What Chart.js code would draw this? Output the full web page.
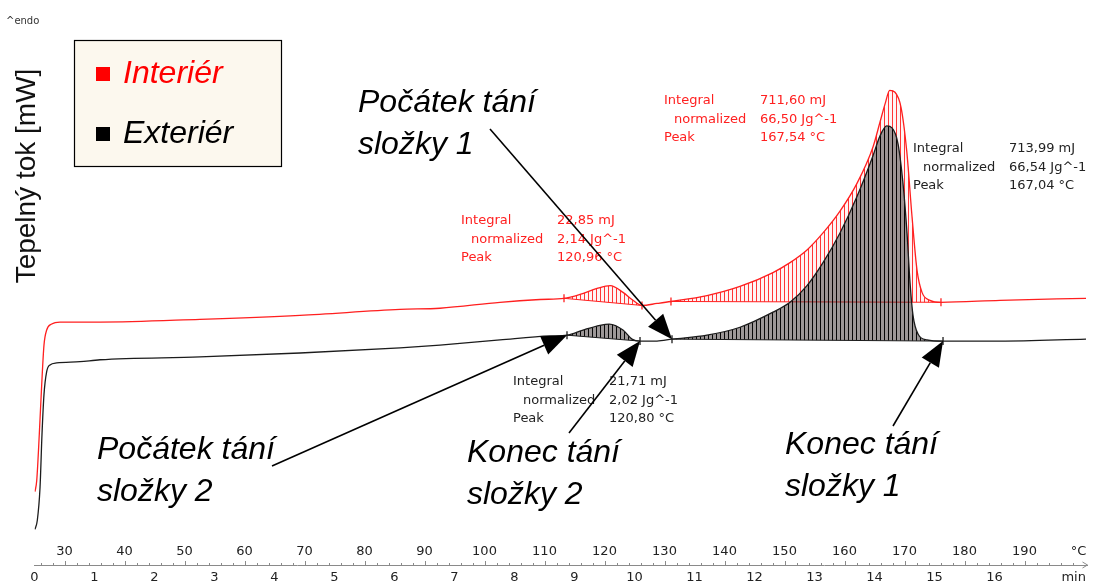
<!DOCTYPE html>
<html>
<head>
<meta charset="utf-8">
<script src="https://cdn.jsdelivr.net/npm/chart.js@4.4.0/dist/chart.umd.min.js"></script>
<style>
  html, body { margin: 0; padding: 0; background: #fff; }
  #wrap { position: relative; width: 1093px; height: 586px; }
</style>
</head>
<body>
<div id="wrap"><canvas id="dsc"></canvas></div>
<script>
// DSC run, heating 10 K/min from 25 °C: heat flow [mW] against temperature [°C]
const redTemp = [25.08, 25.37, 25.8, 26.2, 26.58, 27.03, 27.87, 29.25, 35.92, 52.58, 69.25, 85.92, 92.58, 102.58, 109.25, 113.25, 115.92, 118.75, 120.96, 123.08, 124.75, 126.25, 128.75, 131.08, 137.08, 142.58, 148.08, 150.92, 153.75, 156.42, 159.25, 162.08, 164.75, 165.92, 166.75, 167.54, 168.42, 169.42, 170.37, 171.25, 172.08, 172.92, 174.25, 176.08, 185.92, 200.25];
const redFlow = [1.85, 2.13, 3.3, 4.55, 5.55, 5.93, 6.08, 6.13, 6.13, 6.2, 6.3, 6.45, 6.48, 6.63, 6.7, 6.73, 6.83, 6.98, 7.05, 6.88, 6.68, 6.55, 6.6, 6.65, 6.8, 7.03, 7.38, 7.63, 7.95, 8.38, 8.93, 9.63, 10.55, 11.18, 11.63, 11.98, 11.93, 11.55, 10.45, 8.8, 7.45, 6.88, 6.68, 6.63, 6.68, 6.73];

const blackTemp = [25.08, 25.47, 25.92, 26.25, 26.58, 27.03, 27.58, 28.7, 32.58, 35.92, 52.58, 69.25, 85.92, 92.58, 102.58, 110.92, 113.75, 116.42, 119.25, 120.8, 123.08, 124.58, 125.92, 128.75, 131.25, 137.08, 142.58, 148.08, 150.92, 153.75, 156.42, 159.25, 162.08, 164.75, 165.92, 167.04, 167.92, 168.92, 169.75, 170.42, 170.92, 171.42, 172.25, 173.75, 176.42, 185.92, 200.25];
const blackFlow = [0.9, 1.13, 1.95, 3.3, 4.3, 4.88, 5.05, 5.1, 5.13, 5.18, 5.25, 5.35, 5.48, 5.55, 5.68, 5.78, 5.8, 5.93, 6.05, 6.08, 5.93, 5.7, 5.65, 5.65, 5.7, 5.8, 6.0, 6.38, 6.63, 7.05, 7.63, 8.38, 9.3, 10.33, 10.83, 11.08, 11.03, 10.63, 9.63, 8.38, 7.13, 6.3, 5.83, 5.68, 5.65, 5.65, 5.7];

// integration limits [°C, mW] - start and end of each peak baseline
const redSmallLimits = [[113.25, 6.73], [126.25, 6.55]];
const redMainLimits = [[131.08, 6.65], [176.08, 6.63]];
const blackSmallLimits = [[113.75, 5.80], [125.92, 5.65]];
const blackMainLimits = [[131.25, 5.70], [176.42, 5.65]];

// evaluation: integral [mJ], normalized [J/g], peak [°C]
const redSmallResult = [22.85, 2.14, 120.96];
const redMainResult = [711.60, 66.50, 167.54];
const blackSmallResult = [21.71, 2.02, 120.80];
const blackMainResult = [713.99, 66.54, 167.04];

const tempTicks = [30, 40, 50, 60, 70, 80, 90, 100, 110, 120, 130, 140, 150, 160, 170, 180, 190];
const timeTicks = [0, 1, 2, 3, 4, 5, 6, 7, 8, 9, 10, 11, 12, 13, 14, 15, 16];

const RED = '#ff1f1f';
const BLACK = '#1c1c1c';

const pts = (xs, ys) => xs.map((v, i) => ({ x: v, y: ys[i] }));
const lim = arr => arr.map(p => ({ x: p[0], y: p[1] }));
const num = v => v.toFixed(2).replace('.', ',');

function hatch(line, tint) {
  const c = document.createElement('canvas');
  c.width = 4; c.height = 4;
  const g = c.getContext('2d');
  g.fillStyle = tint;
  g.fillRect(0, 0, 4, 4);
  g.fillStyle = line;
  g.fillRect(0, 0, 1, 4);
  return g.createPattern(c, 'repeat');
}
const redHatch = hatch('rgba(255,20,20,0.85)', 'rgba(255,60,60,0.06)');
const blackHatch = hatch('rgba(0,0,0,0.95)', 'rgba(60,50,50,0.5)');

function baseline(limits, target, color, pattern, order) {
  return {
    label: '', data: lim(limits), borderColor: color, borderWidth: 1,
    fill: { target: target }, backgroundColor: pattern,
    pointStyle: 'line', rotation: 90, pointRadius: 4,
    pointBorderColor: color, pointBorderWidth: 1.3, order: order
  };
}

function arrow(ctx, x0, y0, x1, y1) {
  const a = Math.atan2(y1 - y0, x1 - x0);
  const len = 25, half = 10;
  const bx = x1 - len * Math.cos(a), by = y1 - len * Math.sin(a);
  ctx.beginPath();
  ctx.moveTo(x0, y0);
  ctx.lineTo(bx, by);
  ctx.lineWidth = 1.6;
  ctx.strokeStyle = '#000';
  ctx.stroke();
  ctx.beginPath();
  ctx.moveTo(x1, y1);
  ctx.lineTo(bx + half * Math.sin(a), by - half * Math.cos(a));
  ctx.lineTo(bx - half * Math.sin(a), by + half * Math.cos(a));
  ctx.closePath();
  ctx.fillStyle = '#000';
  ctx.fill();
}

function resultBlock(ctx, res, x, y, color) {
  ctx.font = '13px "DejaVu Sans"';
  ctx.fillStyle = color;
  ctx.textAlign = 'left';
  ctx.textBaseline = 'middle';
  ctx.fillText('Integral', x, y);
  ctx.fillText('normalized', x + 10, y + 19);
  ctx.fillText('Peak', x, y + 37);
  ctx.fillText(num(res[0]) + ' mJ', x + 96, y);
  ctx.fillText(num(res[1]) + ' Jg^-1', x + 96, y + 19);
  ctx.fillText(num(res[2]) + ' °C', x + 96, y + 37);
}

const decor = {
  id: 'decor',
  afterDraw(chart) {
    const { ctx, scales: { x, y } } = chart;
    const px = p => [x.getPixelForValue(p[0]), y.getPixelForValue(p[1])];
    ctx.save();

    // minor ticks along the temperature axis and the axis arrow
    const yb = chart.chartArea.bottom;
    ctx.strokeStyle = '#8a8a8a';
    ctx.lineWidth = 1;
    ctx.beginPath();
    for (let t = 26; t <= 198; t += 2) {
      const xx = Math.round(x.getPixelForValue(t)) + 0.5;
      ctx.moveTo(xx, yb);
      ctx.lineTo(xx, yb - (t % 10 === 0 ? 4 : 2));
    }
    const xr = chart.chartArea.right;
    ctx.moveTo(xr - 5, yb - 3);
    ctx.lineTo(xr, yb);
    ctx.lineTo(xr - 5, yb + 3);
    ctx.stroke();

    // ^endo marker and axis title
    ctx.fillStyle = '#333';
    ctx.font = '10px "DejaVu Sans"';
    ctx.textBaseline = 'middle';
    ctx.fillText('^endo', 6, 21);
    ctx.save();
    ctx.translate(27, 176);
    ctx.rotate(-Math.PI / 2);
    ctx.textAlign = 'center';
    ctx.fillStyle = '#111';
    ctx.font = '28px "Liberation Sans"';
    ctx.fillText('Tepelný tok [mW]', 0, 0);
    ctx.restore();

    // legend box
    ctx.fillStyle = '#fcf8ee';
    ctx.fillRect(74.5, 40.5, 207, 126);
    ctx.strokeStyle = '#000';
    ctx.lineWidth = 1.2;
    ctx.strokeRect(74.5, 40.5, 207, 126);
    const items = chart.data.datasets.slice(0, 2);
    items.forEach((ds, i) => {
      const yy = 74 + i * 60;
      ctx.fillStyle = ds.borderColor === RED ? '#ff0000' : '#000';
      ctx.fillRect(96, yy - 7, 14, 14);
      ctx.font = 'italic 32px "Liberation Sans"';
      ctx.textAlign = 'left';
      ctx.textBaseline = 'alphabetic';
      ctx.fillText(ds.label, 123, yy + 9);
    });

    // evaluation results
    resultBlock(ctx, redSmallResult, 461, 221, '#ff2020');
    resultBlock(ctx, redMainResult, 664, 101, '#ff2020');
    resultBlock(ctx, blackMainResult, 913, 149, '#222');
    resultBlock(ctx, blackSmallResult, 513, 382, '#222');

    // melting start / end captions with arrows
    ctx.fillStyle = '#000';
    ctx.font = 'italic 32px "Liberation Sans"';
    ctx.textAlign = 'left';
    ctx.textBaseline = 'alphabetic';
    const captions = [
      ['Počátek tání', 'složky 1', 358, 112],
      ['Počátek tání', 'složky 2', 97, 459],
      ['Konec tání', 'složky 2', 467, 462],
      ['Konec tání', 'složky 1', 785, 454]
    ];
    captions.forEach(c => {
      ctx.fillText(c[0], c[2], c[3]);
      ctx.fillText(c[1], c[2], c[3] + 42);
    });
    const tips = [
      [490, 129, blackMainLimits[0]],
      [272, 466, blackSmallLimits[0]],
      [569, 433, blackSmallLimits[1]],
      [893, 426, blackMainLimits[1]]
    ];
    tips.forEach(a => {
      const [tx, ty] = px(a[2]);
      arrow(ctx, a[0], a[1], tx, ty);
    });
    ctx.restore();
  }
};

new Chart(document.getElementById('dsc'), {
  type: 'line',
  data: {
    datasets: [
      { label: 'Interiér', data: pts(redTemp, redFlow), borderColor: RED, borderWidth: 1.3,
        pointRadius: 0, cubicInterpolationMode: 'monotone', fill: false, order: 1 },
      { label: 'Exteriér', data: pts(blackTemp, blackFlow), borderColor: BLACK, borderWidth: 1.3,
        pointRadius: 0, cubicInterpolationMode: 'monotone', fill: false, order: 0 },
      baseline(redSmallLimits, 0, RED, redHatch, 5),
      baseline(redMainLimits, 0, RED, redHatch, 5),
      baseline(blackSmallLimits, 1, BLACK, blackHatch, 4),
      baseline(blackMainLimits, 1, BLACK, blackHatch, 4)
    ]
  },
  options: {
    responsive: true,
    maintainAspectRatio: false,
    animation: false,
    events: [],
    layout: { padding: { left: 34.5, right: 5.5, top: 0, bottom: 0 } },
    plugins: {
      legend: { display: false },
      tooltip: { enabled: false }
    },
    scales: {
      x: {
        type: 'linear', position: 'bottom', min: 25, max: 200.5,
        afterBuildTicks: s => { s.ticks = tempTicks.map(v => ({ value: v })).concat([{ value: 199 }]); },
        afterFit: s => { s.height = 6; },
        ticks: {
          mirror: true, padding: 6, color: '#222', maxRotation: 0, autoSkip: false,
          font: { family: 'DejaVu Sans', size: 13 },
          callback: v => (tempTicks.includes(v) ? String(v) : '°C')
        },
        grid: { display: false },
        border: { display: true, color: '#8a8a8a', width: 1 }
      },
      t: {
        type: 'linear', position: 'bottom', weight: 1, min: 0, max: 17.55,
        afterBuildTicks: s => { s.ticks = timeTicks.map(v => ({ value: v })).concat([{ value: 17.32 }]); },
        afterFit: s => { s.height = 15; },
        ticks: {
          padding: -9, color: '#222', maxRotation: 0, autoSkip: false,
          font: { family: 'DejaVu Sans', size: 13 },
          callback: v => (timeTicks.includes(v) ? String(v) : 'min')
        },
        grid: { display: false },
        border: { display: false }
      },
      y: { display: false, min: 0, max: 14.125 }
    }
  },
  plugins: [decor]
});
</script>
</body>
</html>
